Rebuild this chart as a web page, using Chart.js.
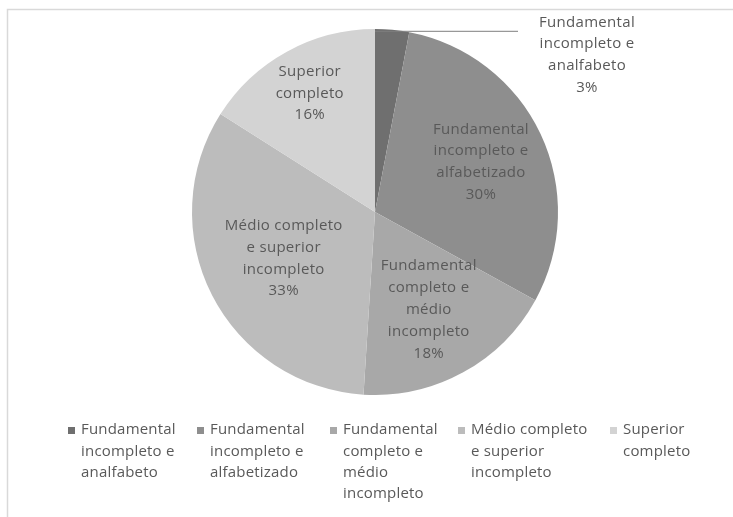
<!DOCTYPE html>
<html>
<head>
<meta charset="utf-8">
<script src="https://cdn.jsdelivr.net/npm/chart.js@4/dist/chart.umd.min.js"></script>
<style>
  html, body { margin: 0; padding: 0; background: #ffffff; }
  #wrap { position: relative; width: 733px; height: 517px; }
</style>
</head>
<body>
<div id="wrap"><canvas id="c" width="733" height="517"></canvas></div>
<script>
// ---- data ----
const categories = [
  ["Fundamental", "incompleto e", "analfabeto"],
  ["Fundamental", "incompleto e", "alfabetizado"],
  ["Fundamental", "completo e", "médio", "incompleto"],
  ["Médio completo", "e superior", "incompleto"],
  ["Superior", "completo"]
];
const values = [3, 30, 18, 33, 16];
const colors = ["#6f6f6f", "#8e8e8e", "#a8a8a8", "#bcbcbc", "#d3d3d3"];
// data-label line breaks inside the pie (as shown)
const sliceLabels = [
  ["Fundamental", "incompleto e", "analfabeto"],
  ["Fundamental", "incompleto e", "alfabetizado"],
  ["Fundamental", "completo e", "médio", "incompleto"],
  ["Médio completo", "e superior", "incompleto"],
  ["Superior", "completo"]
];

const FONT = '15px "Open Sans", "Liberation Sans", sans-serif';
const TEXT = '#595959';

const framePlugin = {
  id: 'frame',
  beforeDraw(chart) {
    const ctx = chart.ctx;
    ctx.save();
    ctx.fillStyle = '#ffffff';
    ctx.fillRect(0, 0, chart.width, chart.height);
    ctx.strokeStyle = '#d9d9d9';
    ctx.lineWidth = 1.5;
    ctx.beginPath();
    ctx.moveTo(7.5, chart.height);
    ctx.lineTo(7.5, 9.5);
    ctx.lineTo(chart.width, 9.5);
    ctx.stroke();
    ctx.restore();
  }
};

const labelPlugin = {
  id: 'sliceLabels',
  afterDatasetsDraw(chart) {
    const ctx = chart.ctx;
    const meta = chart.getDatasetMeta(0);
    const total = values.reduce((a, b) => a + b, 0);
    ctx.save();
    ctx.font = FONT;
    if ('letterSpacing' in ctx) ctx.letterSpacing = '0.3px';
    ctx.fillStyle = TEXT;
    ctx.textAlign = 'center';
    ctx.textBaseline = 'middle';
    const lh = 21.8;
    const radial = [null, 0.64, 0.61, 0.56, 0.74];
    meta.data.forEach((arc, i) => {
      const p = arc.getProps(['x', 'y', 'startAngle', 'endAngle', 'outerRadius'], true);
      const mid = (p.startAngle + p.endAngle) / 2;
      const lines = sliceLabels[i].concat([Math.round(values[i] / total * 100) + '%']);
      let cx, cy;
      if (i === 0) {
        const ay = p.y + Math.sin(mid) * p.outerRadius;
        ctx.strokeStyle = '#7f7f7f';
        ctx.lineWidth = 1;
        ctx.beginPath();
        ctx.moveTo(p.x, ay + 1.5);
        ctx.lineTo(p.x + 143, ay + 1.5);
        ctx.stroke();
        cx = p.x + 212;
        cy = p.y - 157;
      } else {
        const r = p.outerRadius * radial[i];
        cx = p.x + Math.cos(mid) * r;
        cy = p.y + Math.sin(mid) * r;
      }
      const top = cy - (lines.length - 1) * lh / 2;
      lines.forEach((t, k) => ctx.fillText(t, cx, top + k * lh));
    });
    ctx.restore();
  }
};

const legendPlugin = {
  id: 'customLegend',
  afterDraw(chart) {
    const ctx = chart.ctx;
    const xs = [68, 197, 330, 458, 610];
    const y0 = 430;
    const lh = 21.4;
    ctx.save();
    ctx.font = FONT;
    if ('letterSpacing' in ctx) ctx.letterSpacing = '0.2px';
    ctx.textBaseline = 'middle';
    ctx.textAlign = 'left';
    categories.forEach((lines, i) => {
      ctx.fillStyle = colors[i];
      ctx.fillRect(xs[i], y0 - 3, 7, 7);
      ctx.fillStyle = TEXT;
      lines.forEach((t, k) => ctx.fillText(t, xs[i] + 13, y0 + k * lh));
    });
    ctx.restore();
  }
};

new Chart(document.getElementById('c'), {
  type: 'pie',
  data: {
    labels: categories.map(l => l.join(' ')),
    datasets: [{
      data: values,
      backgroundColor: colors,
      borderColor: colors,
      borderWidth: 0
    }]
  },
  options: {
    responsive: false,
    animation: false,
    layout: { padding: { top: 29, bottom: 122, left: 100, right: 83 } },
    plugins: {
      legend: { display: false },
      tooltip: { enabled: false }
    }
  },
  plugins: [framePlugin, labelPlugin, legendPlugin]
});
</script>
</body>
</html>
